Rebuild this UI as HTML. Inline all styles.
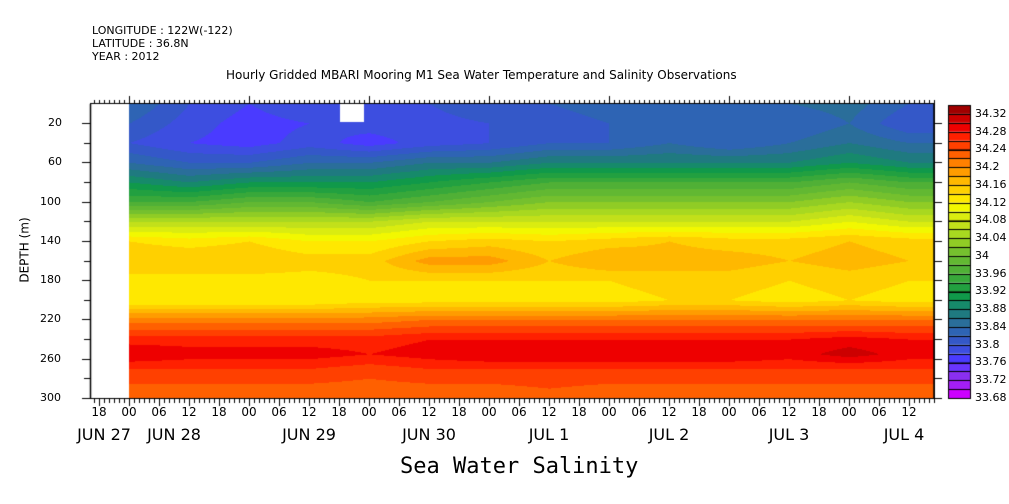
<!DOCTYPE html>
<html><head><meta charset="utf-8">
<style>
html,body{margin:0;padding:0;background:#fff;}
#wrap{position:relative;width:1009px;height:504px;overflow:hidden;font-family:"DejaVu Sans","Liberation Sans",sans-serif;}
.t{position:absolute;white-space:nowrap;color:#000;}
canvas{position:absolute;left:0;top:0;}
</style></head>
<body>
<div id="wrap">
<div class="t" style="left:92px;top:24px;font-size:11px;">LONGITUDE : 122W(-122)</div>
<div class="t" style="left:92px;top:37px;font-size:11px;">LATITUDE : 36.8N</div>
<div class="t" style="left:92px;top:50px;font-size:11px;">YEAR : 2012</div>
<div class="t" style="left:226px;top:68px;font-size:12px;">Hourly Gridded MBARI Mooring M1 Sea Water Temperature and Salinity Observations</div>
<div class="t" style="left:400px;top:454px;font-size:22px;font-family:'DejaVu Sans Mono','Liberation Mono',monospace;">Sea Water Salinity</div>
<div class="t" style="left:-8px;top:243px;font-size:12px;transform:rotate(-90deg);">DEPTH (m)</div>
<canvas id="cv" width="1009" height="504"></canvas>
<div id="labels"></div>
</div>
<script>
// Data
const times = [0,12,24,36,48,60,72,84,96,108,120,132,144,156,168]; // hours since x-axis 00 tick
const depths = [0,20,40,60,80,100,120,140,160,180,200,220,240,255,270,300];
const sal0 = [33.84,33.82,33.80,33.84,33.90,33.96,34.06,34.14,34.16,34.13,34.12,34.21,34.27,34.30,34.26,34.22];
const sal12 = [33.80,33.79,33.78,33.82,33.88,33.96,34.06,34.13,34.16,34.13,34.12,34.21,34.27,34.29,34.26,34.22];
const sal24 = [33.78,33.77,33.77,33.82,33.90,33.98,34.06,34.14,34.16,34.13,34.12,34.21,34.27,34.29,34.26,34.22];
const sal36 = [33.80,33.78,33.79,33.84,33.90,33.98,34.06,34.12,34.15,34.13,34.12,34.21,34.27,34.29,34.26,34.22];
const sal48 = [33.80,33.79,33.77,33.84,33.90,33.96,34.06,34.12,34.15,34.14,34.13,34.21,34.27,34.28,34.25,34.22];
const sal60 = [33.80,33.79,33.79,33.86,33.92,33.98,34.08,34.14,34.19,34.14,34.13,34.22,34.28,34.29,34.26,34.22];
const sal72 = [33.82,33.80,33.80,33.86,33.94,34.00,34.08,34.15,34.19,34.14,34.13,34.22,34.28,34.30,34.26,34.22];
const sal84 = [33.82,33.80,33.82,33.88,33.96,34.02,34.08,34.14,34.16,34.14,34.13,34.22,34.28,34.30,34.26,34.23];
const sal96 = [33.84,33.82,33.82,33.88,33.96,34.02,34.08,34.15,34.18,34.14,34.13,34.22,34.28,34.30,34.26,34.22];
const sal108 = [33.84,33.82,33.84,33.88,33.96,34.02,34.08,34.16,34.17,34.15,34.14,34.22,34.28,34.30,34.26,34.22];
const sal120 = [33.84,33.82,33.82,33.88,33.96,34.02,34.08,34.15,34.17,34.15,34.14,34.22,34.28,34.30,34.26,34.22];
const sal132 = [33.84,33.82,33.84,33.88,33.96,34.02,34.08,34.15,34.16,34.14,34.13,34.22,34.28,34.29,34.26,34.22];
const sal144 = [33.85,33.84,33.86,33.90,33.98,34.04,34.10,34.16,34.17,34.15,34.14,34.22,34.29,34.31,34.26,34.22];
const sal156 = [33.82,33.80,33.84,33.88,33.96,34.02,34.08,34.15,34.16,34.14,34.13,34.22,34.28,34.29,34.26,34.22];
const sal168 = [33.80,33.80,33.84,33.88,33.96,34.02,34.08,34.15,34.16,34.14,34.13,34.22,34.28,34.29,34.26,34.22];
const grid = [sal0,sal12,sal24,sal36,sal48,sal60,sal72,sal84,sal96,sal108,sal120,sal132,sal144,sal156,sal168];
const levelMin = 33.68, levelStep = 0.02;
const palette = ["#cc00ff","#a41ef5","#8a2ff0","#6a35ff","#4a3bff","#3d4ee0","#3458c8","#2e64b4","#2a6e9a","#1f7a80","#168a6a","#10994a","#22a040","#38a83a","#50b036","#62b832","#75c02e","#90cc25","#a8d820","#c2e01a","#daec10","#f2f800","#ffe800","#ffd000","#ffb800","#ff9c00","#ff8000","#ff6000","#ff4000","#ff2000","#ee0000","#cc0000","#a00000"];
const cbLabels = ["34.32","34.28","34.24","34.2","34.16","34.12","34.08","34.04","34","33.96","33.92","33.88","33.84","33.8","33.76","33.72","33.68"];
const hourLabels = ["18","00","06","12","18","00","06","12","18","00","06","12","18","00","06","12","18","00","06","12","18","00","06","12","18","00","06","12"];
const dayLabels = ["JUN 27","JUN 28","JUN 29","JUN 30","JUL 1","JUL 2","JUL 3","JUL 4"];
const dayLabelHours = [-5,9,36,60,84,108,132,155];

// axes
const X0=90, X1=934, Y0=104, Y1=398;
const xOf = h => 129 + 5*h;
const yOf = d => 398 - (300-d)*(398-123)/280;
const cv=document.getElementById('cv'), ctx=cv.getContext('2d');
function hex(c){return [parseInt(c.substr(1,2),16),parseInt(c.substr(3,2),16),parseInt(c.substr(5,2),16)];}
const pal = palette.map(hex);
function sample(h,d){
  let i=0; while(i<times.length-2 && h>times[i+1]) i++;
  let j=0; while(j<depths.length-2 && d>depths[j+1]) j++;
  let fx=Math.max(0,Math.min(1,(h-times[i])/(times[i+1]-times[i])));
  let fy=Math.max(0,Math.min(1,(d-depths[j])/(depths[j+1]-depths[j])));
  const a=grid[i][j],b=grid[i+1][j],c=grid[i][j+1],e=grid[i+1][j+1];
  return (a*(1-fx)+b*fx)*(1-fy)+(c*(1-fx)+e*fx)*fy;
}
const img=ctx.createImageData(X1-X0,Y1-Y0);
for(let py=0;py<Y1-Y0;py++){
  const d=(Y0+py-398)*280/(398-123)+300;
  for(let px=0;px<X1-X0;px++){
    const x=X0+px, k=(py*(X1-X0)+px)*4;
    const h=(x-129)/5;
    if(h<0 || (x>=340&&x<364&&Y0+py<122)){img.data[k]=255;img.data[k+1]=255;img.data[k+2]=255;img.data[k+3]=255;continue;}
    const v=sample(h,d);
    let li=Math.floor((v-levelMin)/levelStep+1e-6); li=Math.max(0,Math.min(pal.length-1,li));
    const c=pal[li]; img.data[k]=c[0];img.data[k+1]=c[1];img.data[k+2]=c[2];img.data[k+3]=255;
  }
}
ctx.putImageData(img,X0,Y0);
ctx.strokeStyle='#000';ctx.lineWidth=1;
ctx.strokeRect(X0+0.5,Y0-0.5,X1-X0,Y1-Y0+1);
ctx.lineWidth=1.5;ctx.beginPath();ctx.moveTo(X0+0.5,Y0);ctx.lineTo(X0+0.5,Y1);ctx.moveTo(X1,Y0);ctx.lineTo(X1,Y1);ctx.stroke();
ctx.lineWidth=1;ctx.beginPath();
for(let h=-7;xOf(h)<=X1;h++){
  const x=Math.round(xOf(h))+0.5; const maj=(h%24===0), six=(h%6===0);
  ctx.moveTo(x,Y0);ctx.lineTo(x,Y0-(maj?8:4));
  ctx.moveTo(x,Y1);ctx.lineTo(x,Y1+(six?8:5));
}
for(let d=20;d<=300;d+=20){
  const y=Math.round(yOf(d))+0.5;
  ctx.moveTo(X0,y);ctx.lineTo(X0-(d%40===20?8:6),y);
  ctx.moveTo(X1,y);ctx.lineTo(X1+8,y);
}
ctx.stroke();
// colorbar
const CX=948, CW=22, CT=105, CB=398;
const bh=(CB-CT)/palette.length;
for(let i=0;i<palette.length;i++){
  const y1=CB-(i+1)*bh;
  ctx.fillStyle=palette[i];ctx.fillRect(CX,y1,CW,bh);
  ctx.strokeStyle='#000';ctx.strokeRect(CX+0.5,Math.round(y1)+0.5,CW,Math.round(bh));
}
const L=document.getElementById('labels');
function addT(txt,x,y,fs,name,center){
  const e=document.createElement('div');e.className='t';e.textContent=txt;
  e.style.left=x+'px';e.style.top=y+'px';e.style.fontSize=fs+'px';
  if(center)e.style.transform='translateX(-50%)';
  
  
  L.appendChild(e);
}
cbLabels.forEach((s,i)=>{const v=parseFloat(s);const y=CB-(v-levelMin)/levelStep*bh;addT(s,975,y-7,11,'colorbar-label',false);});
for(let d=20;d<=300;d+=40){addT(String(d),d<100?48:40,yOf(d)-7,11,'y-tick-label',false);}
hourLabels.forEach((s,i)=>{addT(s,xOf(-6+6*i),405,12,'x-hour-label',true);});
dayLabels.forEach((s,i)=>{addT(s,xOf(dayLabelHours[i]),425,16,'x-date-label',true);});
</script>
</body></html>
